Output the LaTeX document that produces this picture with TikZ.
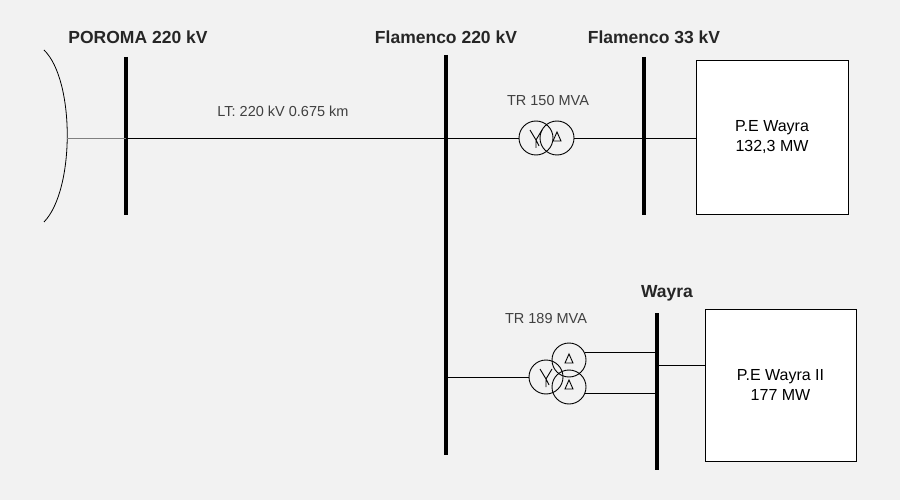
\documentclass[tikz,border=0pt]{standalone}
\usepackage{fontspec}
\setmainfont{Liberation Sans}
\begin{document}
\begin{tikzpicture}[x=1pt,y=-1pt,
 bus/.style={line width=3.2pt},
 wire/.style={line width=0.8pt},
 wnd/.style={circle,draw,line width=0.9pt,minimum size=34pt,inner sep=0pt},
 box/.style={draw,line width=0.8pt,fill=white,align=center,font=\fontsize{16}{20}\selectfont},
 lbl/.style={font=\bfseries\fontsize{17.5}{20}\selectfont,text=black!85},
 tl/.style={font=\fontsize{14.5}{17}\selectfont,text=black!75}]
\fill[black!5] (0,0) rectangle (900,500);
\useasboundingbox (0,0) rectangle (900,500);
% buses
\coordinate (p1) at (126,57); \coordinate (p2) at (126,215);
\coordinate (f1) at (446,55); \coordinate (f2) at (446,455);
\coordinate (g1) at (644,57); \coordinate (g2) at (644,215);
\coordinate (w1) at (657,313); \coordinate (w2) at (657,470);
\draw[bus] (p1)--(p2); \draw[bus] (f1)--(f2); \draw[bus] (g1)--(g2); \draw[bus] (w1)--(w2);
\node[lbl] at (138,37) {POROMA 220 kV};
\node[lbl] at (446,37) {Flamenco 220 kV};
\node[lbl] at (654,37) {Flamenco 33 kV};
\node[lbl] at (667,293) {Wayra};
% grid arc
\coordinate (a0) at (67,138);
\draw[wire] (44,50) .. controls (75,80) and (75,190) .. (44,222);
\draw[wire,black!50] (a0) -- (126,138);
\draw[wire] (126,138) -- (446,138);
\node[tl] at (283,111) {LT: 220 kV 0.675 km};
% transformer 1
\node[wnd] (t1a) at (536,138) {};
\node[wnd] (t1b) at (557,138) {};
\draw[wire] (446,138) -- (t1a.west);
\draw[wire] (t1b.east) -- (644,138);
\node[tl] at (548,101) {TR 150 MVA};
\draw[line width=0.9pt] (530,130)--(536,140)--(542,130) (536,140)--(536,148) (536,140)--(539,146);
\draw[line width=0.9pt] (557,132)--(553,141)--(561,141)--cycle;
% boxes
\node[box,minimum width=152pt,minimum height=154pt] (b1) at (772,137) {P.E Wayra\\132,3 MW};
\draw[wire] (644,138) -- (644,138 -| b1.west);
\node[box,minimum width=151pt,minimum height=152pt] (b2) at (780.5,385) {P.E Wayra II\\177 MW};
\draw[wire] (657,365) -- (657,365 -| b2.west);
% transformer 2
\node[wnd] (t2a) at (546,377) {};
\node[wnd] (t2b) at (569,360) {};
\node[wnd] (t2c) at (569,387) {};
\node[tl] at (546,319) {TR 189 MVA};
\draw[wire] (446,377) -- (t2a.west);
\draw[wire] (585,352) -- (657,352);
\draw[wire] (585,393) -- (657,393);
\draw[line width=0.9pt] (540,369)--(546,379)--(552,369) (546,379)--(546,387) (546,379)--(549,385);
\draw[line width=0.9pt] (569,354)--(565,363)--(573,363)--cycle;
\draw[line width=0.9pt] (569,380)--(565,389)--(573,389)--cycle;
\end{tikzpicture}
\end{document}
